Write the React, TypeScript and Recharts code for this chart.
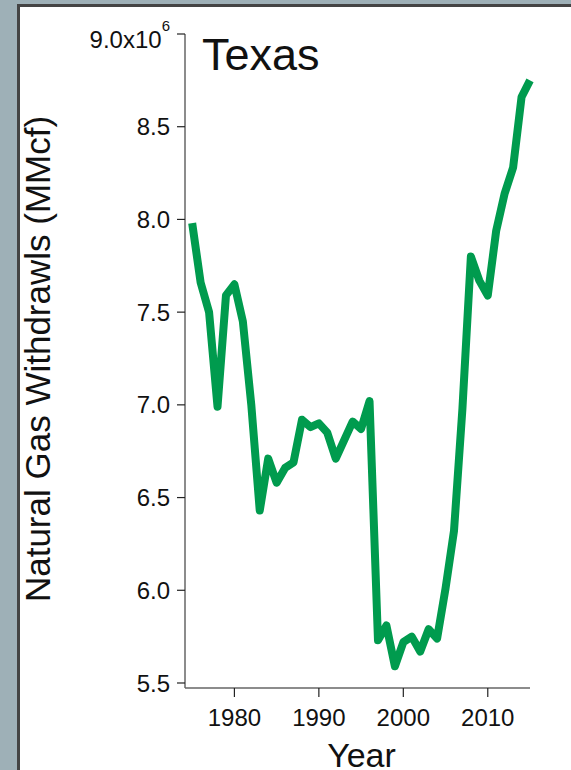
import { LineChart, Line, XAxis, YAxis } from 'recharts';

// Annual natural gas withdrawals for Texas, in MMcf
const years = [
  1975, 1976, 1977, 1978, 1979, 1980, 1981, 1982, 1983, 1984, 1985, 1986, 1987, 1988,
  1989, 1990, 1991, 1992, 1993, 1994, 1995, 1996, 1997, 1998, 1999, 2000, 2001, 2002,
  2003, 2004, 2005, 2006, 2007, 2008, 2009, 2010, 2011, 2012, 2013, 2014, 2015,
];
const withdrawals = [
  7980000, 7660000, 7500000, 6990000, 7590000, 7650000, 7450000, 7000000, 6430000, 6710000,
  6580000, 6660000, 6690000, 6920000, 6880000, 6900000, 6850000, 6710000, 6810000, 6910000,
  6870000, 7020000, 5730000, 5810000, 5590000, 5720000, 5750000, 5670000, 5790000, 5740000,
  6010000, 6320000, 6980000, 7800000, 7670000, 7590000, 7940000, 8140000, 8280000, 8660000,
  8750000,
];
const yearTicks = [1980, 1990, 2000, 2010];
const valueTicks = [5500000, 6000000, 6500000, 7000000, 7500000, 8000000, 8500000, 9000000];

const data = years.map((year, i) => ({ year, value: withdrawals[i] }));

const FONT = '"Liberation Sans", Arial, sans-serif';

function ValueTick(props: any) {
  const { x, y, payload } = props;
  const v = payload.value as number;
  if (v === 9000000) {
    return (
      <text x={x} y={y + 14} textAnchor="end" fontSize={24} fontFamily={FONT} fill="#111">
        <tspan>9.0x10</tspan>
        <tspan dy={-17} fontSize={15}>6</tspan>
      </text>
    );
  }
  return (
    <text x={x} y={y} dy="0.355em" textAnchor="end" fontSize={24} fontFamily={FONT} fill="#111">
      {(v / 1e6).toFixed(1)}
    </text>
  );
}

export default function App() {
  return (
    <div style={{ position: 'absolute', left: 0, top: 0, width: 571, height: 770, background: '#9eb0b7', overflow: 'hidden' }}>
      <div
        style={{
          position: 'absolute',
          left: 17,
          top: 4,
          width: 600,
          height: 800,
          background: '#fff',
          borderLeft: '3px solid #444',
          borderTop: '3px solid #444',
        }}
      />
      <div style={{ position: 'absolute', left: 0, top: 0 }}>
        <LineChart width={571} height={770} data={data} margin={{ top: 34, right: 41, bottom: 0, left: 0 }}>
          <XAxis
            dataKey="year"
            type="number"
            domain={[1974.15, 2015]}
            ticks={yearTicks}
            height={82}
            tickSize={9}
            tickMargin={12}
            axisLine={{ stroke: '#666', strokeWidth: 1.5 }}
            tickLine={{ stroke: '#222', strokeWidth: 1.2 }}
            tick={{ fontSize: 24, fontFamily: FONT, fill: '#111' }}
            label={{
              content: (p: any) => (
                <text
                  x={p.viewBox.x + p.viewBox.width / 2 + 4}
                  y={p.viewBox.y + 79}
                  textAnchor="middle"
                  fontSize={34}
                  fontFamily={FONT}
                  fill="#111"
                >
                  Year
                </text>
              ),
            }}
          />
          <YAxis
            type="number"
            domain={[5473000, 9000000]}
            ticks={valueTicks}
            width={185}
            tickSize={8}
            tickMargin={7}
            axisLine={{ stroke: '#666', strokeWidth: 1.5 }}
            tickLine={{ stroke: '#222', strokeWidth: 1.2 }}
            tick={<ValueTick />}
            label={{
              content: (p: any) => {
                const cy = p.viewBox.y + p.viewBox.height / 2 - 2;
                return (
                  <g>
                    <text
                      x={50}
                      y={cy}
                      transform={`rotate(-90, 50, ${cy})`}
                      textAnchor="middle"
                      fontSize={35}
                      fontFamily={FONT}
                      fill="#111"
                    >
                      Natural Gas Withdrawls (MMcf)
                    </text>
                    <text x={202} y={70} fontSize={45} fontFamily={FONT} fill="#111">
                      Texas
                    </text>
                  </g>
                );
              },
            }}
          />
          <Line
            dataKey="value"
            type="linear"
            stroke="#009b4e"
            strokeWidth={8}
            strokeLinejoin="round"
            strokeLinecap="butt"
            dot={false}
            activeDot={false}
            isAnimationActive={false}
          />
        </LineChart>
      </div>
    </div>
  );
}
